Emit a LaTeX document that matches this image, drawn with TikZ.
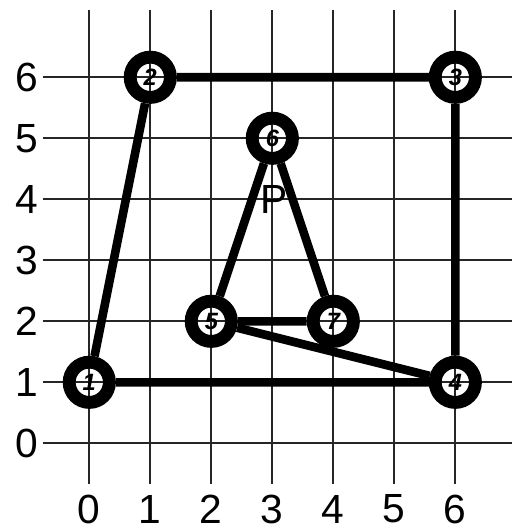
\documentclass[tikz,border=0pt]{standalone}
\usepackage{fontspec}
\setmainfont{Liberation Sans}
\usepackage{tikz}
\usetikzlibrary{calc}

\tikzset{
  gridline/.style={line width=0.9pt,black!85},
  axislab/.style={font=\fontsize{19}{19}\selectfont,inner sep=0pt},
  vtx/.style={circle,draw,line width=6pt,minimum size=0.66cm,inner sep=0pt,
    font=\fontsize{11}{11}\selectfont\itshape\bfseries},
  edge/.style={line width=4pt}
}

\begin{document}
\begin{tikzpicture}
  \useasboundingbox (-1.464,-1.405) rectangle (6.913,7.267);
  % grid and axis numbers
  \foreach \k in {0,...,6}{
    \draw[gridline] (\k,-0.67) -- (\k,7.11);
    \draw[gridline] (-0.76,\k) -- (6.95,\k);
    \node[axislab] (xl\k) at (\k,-1.08) {\k};
    \node[axislab] (yl\k) at (-1.02,\k) {\k};
  }
  % vertices
  \foreach \n/\pos in {1/{(0,1)},2/{(1,6)},3/{(6,6)},4/{(6,1)},5/{(2,2)},6/{(3,5)},7/{(4,2)}}{
    \node[vtx] (v\n) at \pos {\n};
  }
  \draw[edge] (v1) -- (v2) -- (v3) -- (v4) -- (v1);
  \draw[edge] (v5) -- (v6) -- (v7) -- (v5);
  \draw[edge] (v5) -- (v4);
  \node[axislab] (plab) at (3.03,4.0) {P};
\end{tikzpicture}
\end{document}
